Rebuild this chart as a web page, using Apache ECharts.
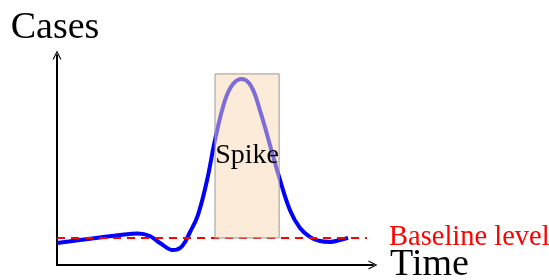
<!DOCTYPE html>
<html>
<head>
<meta charset="utf-8">
<script src="https://cdn.jsdelivr.net/npm/echarts@6/dist/echarts.min.js"></script>
<style>
  html, body { margin: 0; padding: 0; background: #fff; }
  #chart { width: 549px; height: 280px; }
</style>
</head>
<body>
<div id="chart"></div>
<script>
// curve (time, cases)
const timeValues = [0, 0.73, 1.36, 1.99, 2.56, 2.94, 3.26, 3.67, 3.96, 4.21, 4.46, 4.75, 5.0, 5.32, 5.57, 5.85, 6.14, 6.42, 6.74, 7.03, 7.37, 7.69, 8.01, 8.32, 8.64, 8.96, 9.21];
const caseValues = [1.05, 1.19, 1.31, 1.43, 1.5, 1.38, 1.05, 0.71, 0.9, 1.57, 2.38, 4.05, 5.95, 7.86, 8.62, 8.86, 8.52, 7.38, 5.71, 4.19, 2.62, 1.76, 1.33, 1.14, 1.1, 1.19, 1.29];

const baselineLevel = 1.29;
const baselineSpan = [0, 9.81];

const spikeX = [5.0, 7.03];
const spikeY = [baselineLevel, 9.1];

const serif = '"Liberation Serif", "DejaVu Serif", serif';
const arrow = 'path://M0,10 L5,0 L10,10 L8.6,10 L5,2.6 L1.4,10 Z';

const chart = echarts.init(document.getElementById('chart'));

const axisCommon = {
  type: 'value',
  min: 0,
  max: 10,
  nameTextStyle: { fontFamily: serif, fontSize: 38, color: '#000' },
  axisLine: {
    show: true,
    onZero: false,
    symbol: ['none', arrow],
    symbolSize: [12, 9],
    lineStyle: { color: '#000', width: 2 }
  },
  axisTick: { show: false },
  axisLabel: { show: false },
  splitLine: { show: false }
};

chart.setOption({
  animation: false,
  grid: { left: 57, top: 55, width: 316, height: 210, outerBoundsMode: 'none', containLabel: false },
  xAxis: Object.assign({}, axisCommon, {
    name: 'Time',
    nameLocation: 'end',
    nameGap: 17,
    nameTextStyle: Object.assign({}, axisCommon.nameTextStyle, { verticalAlign: 'middle', align: 'left', padding: [4, 0, 0, 0] })
  }),
  yAxis: Object.assign({}, axisCommon, {
    name: 'Cases',
    nameLocation: 'end',
    nameGap: 8,
    nameTextStyle: Object.assign({}, axisCommon.nameTextStyle, { align: 'center', padding: [0, 0, 0, -4] })
  }),
  series: [
    {
      type: 'line',
      z: 2,
      data: timeValues.map((t, i) => [t, caseValues[i]]),
      smooth: 0.4,
      showSymbol: false,
      lineStyle: { color: '#0000ff', width: 4 }
    },
    {
      type: 'line',
      z: 3,
      data: baselineSpan.map(t => [t, baselineLevel]),
      showSymbol: false,
      lineStyle: { color: '#ff0000', width: 2, type: [8, 6] },
      endLabel: {
        show: true,
        formatter: 'Baseline level',
        color: '#ff0000',
        fontFamily: serif,
        fontSize: 28.5,
        distance: 22
      }
    },
    {
      type: 'line',
      z: 5,
      data: [],
      markArea: {
        silent: true,
        z: 10,
        itemStyle: {
          color: 'rgba(251, 215, 180, 0.5)',
          borderColor: '#999',
          borderWidth: 1
        },
        label: {
          show: true,
          position: 'inside',
          color: '#000',
          fontFamily: serif,
          fontSize: 28
        },
        data: [[
          { name: 'Spike', coord: [spikeX[0], spikeY[1]] },
          { coord: [spikeX[1], spikeY[0]] }
        ]]
      }
    }
  ]
});
</script>
</body>
</html>
